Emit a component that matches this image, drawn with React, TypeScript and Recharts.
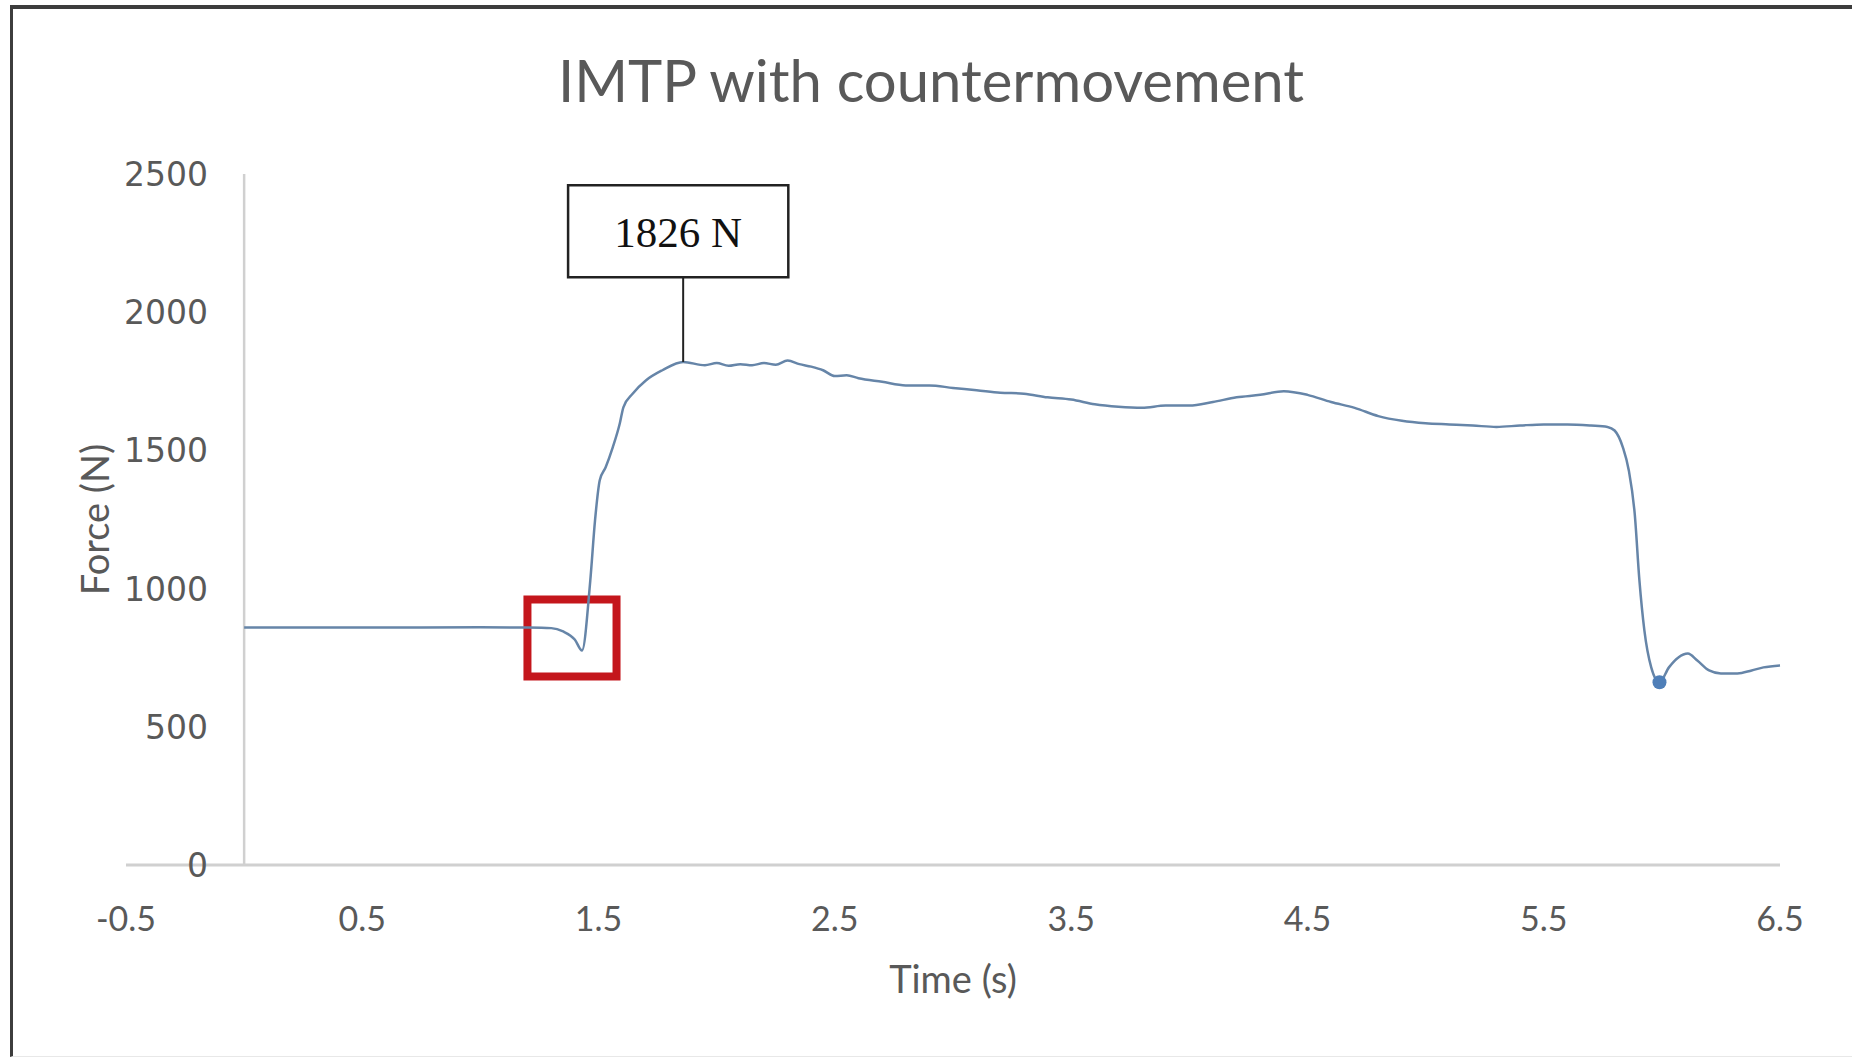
import {
  Label,
  Line,
  LineChart,
  ReferenceArea,
  ReferenceDot,
  ReferenceLine,
  XAxis,
  YAxis,
} from "recharts";

// time (s) and force (N)
const TIME = [
  0, 0.5, 1.0, 1.2, 1.3, 1.35, 1.4, 1.43, 1.465, 1.485, 1.505, 1.53, 1.56, 1.59,
  1.605, 1.645, 1.7, 1.77, 1.858, 1.95, 2.0, 2.05, 2.1, 2.15, 2.2, 2.25, 2.3,
  2.35, 2.4, 2.45, 2.5, 2.55, 2.6, 2.7, 2.8, 2.9, 3.0, 3.1, 3.2, 3.3, 3.4, 3.5,
  3.6, 3.7, 3.8, 3.9, 4.0, 4.1, 4.2, 4.3, 4.4, 4.5, 4.6, 4.7, 4.8, 4.9, 5.0,
  5.1, 5.2, 5.3, 5.4, 5.5, 5.6, 5.7, 5.77, 5.8, 5.835, 5.86, 5.885, 5.905,
  5.926, 5.955, 5.99, 6.03, 6.07, 6.11, 6.15, 6.2, 6.25, 6.32, 6.38, 6.43, 6.5,
];
const FORCE = [
  859, 859, 860, 859, 857, 845, 815, 776, 1030, 1247, 1392, 1439, 1511, 1598,
  1656, 1706, 1753, 1790, 1820, 1808, 1816, 1806, 1812, 1808, 1816, 1810, 1825,
  1812, 1803, 1790, 1769, 1772, 1761, 1748, 1735, 1735, 1726, 1718, 1709, 1705,
  1692, 1684, 1667, 1658, 1654, 1662, 1662, 1675, 1692, 1701, 1714, 1701, 1675,
  1654, 1624, 1607, 1598, 1594, 1590, 1585, 1590, 1594, 1594, 1590, 1585, 1572,
  1511, 1428, 1272, 1030, 849, 715, 661, 715, 751, 765, 740, 704, 693, 693, 704,
  715, 722,
];

const X_TICKS = [-0.5, 0.5, 1.5, 2.5, 3.5, 4.5, 5.5, 6.5];
const Y_TICKS = [0, 500, 1000, 1500, 2000, 2500];

const PEAK_TIME = 1.858;
const PEAK_FORCE = 1820;
const PEAK_LABEL = "1826 N";
const LABEL_BOX = { x1: 1.371, x2: 2.303, y1: 2126, y2: 2459 };
const DIP_BOX = { x1: 1.199, x2: 1.576, y1: 682, y2: 961 };
const LANDING_TIME = 5.99;
const LANDING_FORCE = 661;

const data = TIME.map((t, i) => ({ t, force: FORCE[i] }));

const GREY = "#595959";
const AXIS = "#d0d0d0";

function XTick(props: any) {
  const { x, y, payload } = props;
  return (
    <text x={x} y={y + 58} textAnchor="middle" fill={GREY} fontSize={34} fontFamily="Lato">
      {payload.value}
    </text>
  );
}

function YTick(props: any) {
  const { x, y, payload } = props;
  return (
    <text x={x + 90} y={y + 12} textAnchor="end" fill={GREY} fontSize={33} fontFamily="DejaVu Sans">
      {payload.value}
    </text>
  );
}

export default function App() {
  return (
    <div style={{ position: "absolute", left: 0, top: 0, width: 1852, height: 1059, background: "#fff" }}>
      <div
        style={{
          position: "absolute",
          left: 10,
          top: 5,
          right: 0,
          bottom: 2,
          borderTop: "4px solid #3d3d3d",
          borderLeft: "3px solid #3d3d3d",
          borderBottom: "1px solid #e8e8e8",
        }}
      />
      <div
        style={{
          position: "absolute",
          left: 0,
          width: 1862,
          top: 46,
          textAlign: "center",
          fontFamily: "Lato",
          fontSize: 58,
          color: GREY,
          lineHeight: "68px",
        }}
      >
        IMTP with countermovement
      </div>
      <div style={{ position: "absolute", left: 0, top: 0 }}>
        <LineChart width={1852} height={1059} data={data} margin={{ top: 174, right: 72, bottom: 64, left: 0 }}>
          <XAxis
            type="number"
            dataKey="t"
            domain={[-0.5, 6.5]}
            ticks={X_TICKS}
            tickLine={false}
            axisLine={{ stroke: AXIS, strokeWidth: 3 }}
            tick={<XTick />}
            height={130}
          >
            <Label
              content={({ viewBox }: any) => (
                <text
                  x={viewBox.x + viewBox.width / 2}
                  y={viewBox.y + 128}
                  textAnchor="middle"
                  fill={GREY}
                  fontSize={38}
                  fontFamily="Lato"
                >
                  Time (s)
                </text>
              )}
            />
          </XAxis>
          <YAxis
            type="number"
            domain={[0, 2500]}
            ticks={Y_TICKS}
            tickLine={false}
            axisLine={false}
            tick={<YTick />}
            width={126}
          >
            <Label
              content={({ viewBox }: any) => {
                const cx = 94;
                const cy = viewBox.y + viewBox.height / 2;
                return (
                  <text
                    x={cx}
                    y={cy}
                    transform={`rotate(-90 ${cx} ${cy})`}
                    textAnchor="middle"
                    dominantBaseline="central"
                    fill={GREY}
                    fontSize={38}
                    fontFamily="Lato"
                  >
                    Force (N)
                  </text>
                );
              }}
            />
          </YAxis>
          <ReferenceLine x={0} stroke={AXIS} strokeWidth={2.5} />
          <Line
            type="monotone"
            dataKey="force"
            stroke="#6685a8"
            strokeWidth={2.5}
            dot={false}
            isAnimationActive={false}
          />
          <ReferenceDot x={LANDING_TIME} y={LANDING_FORCE} r={7} fill="#4f7fb8" stroke="none" />
          <ReferenceArea
            x1={DIP_BOX.x1}
            x2={DIP_BOX.x2}
            y1={DIP_BOX.y1}
            y2={DIP_BOX.y2}
            fill="none"
            fillOpacity={0}
            stroke="#c4161c"
            strokeWidth={8}
          />
          <ReferenceLine
            segment={[
              { x: PEAK_TIME, y: PEAK_FORCE },
              { x: PEAK_TIME, y: LABEL_BOX.y1 },
            ]}
            stroke="#222"
            strokeWidth={2}
          />
          <ReferenceArea
            x1={LABEL_BOX.x1}
            x2={LABEL_BOX.x2}
            y1={LABEL_BOX.y1}
            y2={LABEL_BOX.y2}
            fill="#fff"
            fillOpacity={1}
            stroke="#222"
            strokeWidth={2.5}
          >
            <Label
              value={PEAK_LABEL}
              position="center"
              fill="#111"
              fontSize={43}
              fontFamily="Liberation Serif"
            />
          </ReferenceArea>
        </LineChart>
      </div>
    </div>
  );
}
